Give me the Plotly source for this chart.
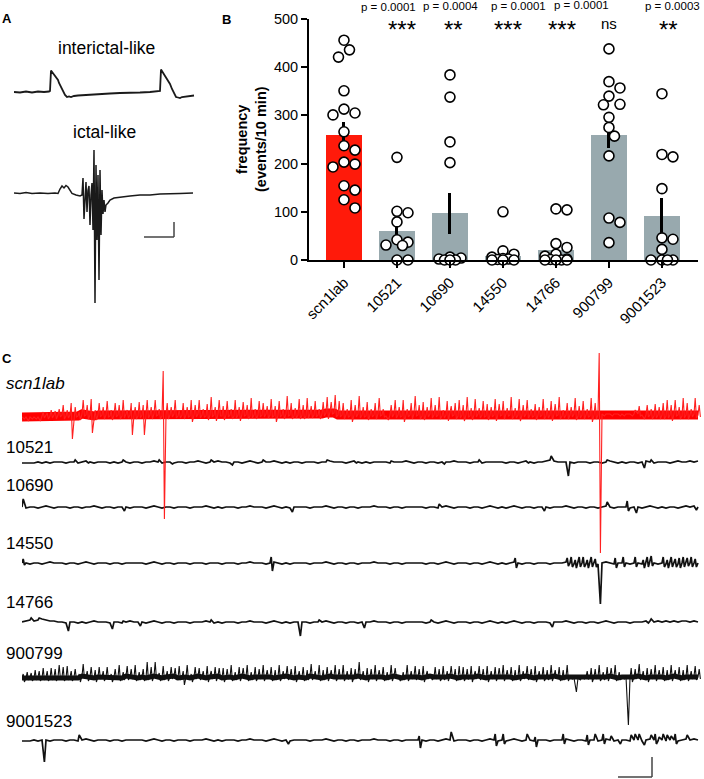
import plotly.graph_objects as go

W, H = 704, 779
FONT = "Liberation Sans, Arial, Helvetica, sans-serif"


def fx(x):
    return x / W


def fy(y):
    return 1 - y / H


# ---------------- Panel A data (time in ms-like units, amplitude relative to baseline) -------------
inter_t = [0, 6, 12, 18, 24, 30, 35, 36, 37, 38, 39, 41, 42, 43, 44, 45, 47, 49, 51, 53,
           55, 57, 60, 64, 70, 76, 86, 96, 106, 116, 126, 136, 144, 146, 147, 148, 150, 152, 153, 154,
           156, 158, 160, 162, 164, 166, 168, 172, 176, 180]
inter_v = [0, -0.5, 0.5, -0.5, 0.5, 0, 0.5, 1, 21.5, 20, 19, 16, 14, 13.5, 12, 9, 5, 0, -3, -5,
           -4.5, -5, -4, -3.5, -3, -2.5, -2, -1.5, -1, -1, -0.5, 0, 0.5, 1, 22.5, 21, 18, 15, 13, 12,
           8, 3, -2, -5, -5.5, -6, -5, -4.5, -4, -3.5]
ictal_t = [0, 6, 12, 18, 26, 34, 41, 44, 46, 48, 50, 52, 54, 56, 58, 62, 66, 68, 69, 70,
           71, 72, 73, 74, 75, 76, 77, 78, 79, 80, 81, 82, 83, 84, 85, 86, 87, 88, 89, 90,
           91, 92, 94, 96, 100, 106, 116, 126, 136, 146, 156, 166, 179]
ictal_v = [0, -0.5, 0.5, -0.5, 0, -0.5, 0, -0.5, 4, 7, 5, 7.5, 6, 2, -0.5, -2, -3, -2, 15, -26,
           1, 11, -19, 3, 7, -32, -2, 10, -37, 43, -110, 28, -47, 18, -87, 23, -42, 3, -21, -7,
           -19, -12, -10, -7, -5, -4, -3, -2, -2, -1, -1, -0.5, 0]

# ---------------- Panel B data -------------
groups = ["scn1lab", "10521", "10690", "14550", "14766", "900799", "9001523"]
means = [259, 60, 97, 8, 20, 260, 91]
sems = [27, 20, 43, 7, 10, 28, 37]
pts_scn1lab = [456, 436, 421, 351, 313, 305, 301, 266, 237, 228, 203, 199, 193, 154, 145, 125, 108]
pts_10521 = [213, 101, 98, 79, 42, 37, 31, 30, 0, 0]
pts_10690 = [384, 338, 245, 202, 6, 4, 2, 0, 0, 0]
pts_14550 = [100, 19, 12, 6, 3, 2, 1, 0, 0, 0]
pts_14766 = [106, 104, 34, 26, 12, 8, 2, 1, 0, 0, 0, 0]
pts_900799 = [438, 370, 357, 340, 323, 322, 296, 275, 257, 216, 87, 78, 36]
pts_9001523 = [345, 219, 214, 148, 46, 43, 22, 0, 0, 0, 0]
points = [pts_scn1lab, pts_10521, pts_10690, pts_14550, pts_14766, pts_900799, pts_9001523]
p_labels = ["", "p = 0.0001", "p = 0.0004", "p = 0.0001", "p = 0.0001", "", "p = 0.0003"]
sig_labels = ["", "***", "**", "***", "***", "ns", "**"]
y_ticks = [0, 100, 200, 300, 400, 500]

# ---------------- Panel C data (one char per time bin) -------------
# lvl: baseline level ('5' = 0), up / dn: spike amplitude (x2), 0-9 then a-z
rec_names = ["scn1lab", "10521", "10690", "14550", "14766", "900799", "9001523"]

scn_lvl = ("3333345455 5455465545 5545546554 5456545564 5545654556 4554565455 5654556545 "
           "5465567875 5545654556 5456545565 4565545654 5545654556 5654556545 5456545564 "
           "5545566666 6666655545 5456545565")
scn_up = ("0000021323 5364275836 4736582647 5847306473 6485736947 5738465937 6485739648 "
          "5947368597 6385947368 3057483695 7485937468 5948376485 7394857364 8475936485 "
          "7396000000 0002405364 6857496385")
scn_dn = ("1211212121 21c1212921 2121212a21 a121202121 2131212131 2121312121 1213121212 "
          "2121213121 2131212121 1212131212 2121213121 3121212131 2121312121 2131212131 "
          "2132010101 1010121212 2131212121")
scn_big = {35: (45, 103), 144: (62, 138)}

r10521_lvl = ("4444545455 5455456545 5545455455 4556545545 5455654556 5545545654 5556545455 "
              "4555455655 5456545455 5545556545 5455455565 5545545555 5455456545 5676555545 "
              "5545545654 5455456545 5545655656")
r10521_up = ("0000000000 0001000000 0000010000 0000100000 0000000100 0000000000 1000000000 "
             "0000001000 0000000000 0010000000 0000000000 0000100000 0000000000 0020000000 "
             "0000001000 0000000100 0000000000")
r10521_dn = ("0000000000 0000001000 0000000000 0000000100 0000000000 0010000000 0000000000 "
             "0000000000 0001000000 0000000000 0000010000 0000000000 0000001000 0000007000 "
             "0000000000 0000030000 0000000000")

r10690_lvl = ("5455456545 5545545565 4554555455 5456545545 5545556545 4555455655 5456545455 "
              "5545556545 5455455565 5545545555 5455456545 5545545654 5456545545 5545556545 "
              "5455456545 5545545654 5455456565")
r10690_up = ("4000000000 0000000000 0000000000 0000000000 0000000000 0000000000 0000000000 "
             "0000000000 0000000000 0000000000 0000200000 0000000000 0000000000 0000000000 "
             "0000002000 0300000000 0000000000")
r10690_dn = ("0000000000 0000000000 0000020000 0000000000 0000000000 0000000000 0000000200 "
             "0000000000 0000000000 0000000000 0000000000 0000000000 0000000000 2000000000 "
             "0000000000 0203000000 0000000020")

r14550_lvl = ("5545545655 5455456545 5545545555 5456545545 5545554555 4555455655 5456545455 "
              "5545556545 5455455565 5545545555 5455456545 5545545654 5456545545 5545556545 "
              "5455456545 5545545654 5455456555")
r14550_up = ("2000000000 0000000000 0000000000 0000000000 0000000000 0000000000 0030000000 "
             "0000000000 0000000000 0000000000 0000000000 0000000000 0002000000 0000002323 "
             "3232000030 3003023300 3232332320")
r14550_dn = ("1000000000 0000000000 0000000000 0000000000 0000000000 0000000000 0040000000 "
             "0000000000 0000000000 0000000000 0000000000 0000000000 0003000000 0000002222 "
             "2222k00020 2002022200 2222222220")

r14766_lvl = ("5676787665 5455454565 5545545655 5456545545 5545556545 4555455655 5456545455 "
              "5545556545 5455455565 5545545555 5455456545 5545545654 5456545545 5545556545 "
              "5455456545 5545556656 5656566565")
r14766_up = ("0010100000 0000000000 0000010000 0000000000 0000000100 0000000000 0000000000 "
             "0000100000 0000000000 0000000000 0010000000 0000000000 0000000000 0000000000 "
             "0000000000 0000000100 0000000000")
r14766_dn = ("0000000000 0400000000 0030000002 0000000000 0000000000 0000000000 0000000007 "
             "0000000000 0000030000 0000000000 0000000000 0000000000 0000000000 0020000000 "
             "0000000000 0000001000 0000000000")

r900799_lvl = ("4454545455 5455465545 5545546554 5456545564 5545654556 4554565455 5654556545 "
               "5465545655 5545654556 5456545565 4565545654 5545654556 5654556545 5456545544 "
               "5545545654 5545654556 5456545565")
r900799_up = ("2324353546 5634263545 3524635463 4857263546 3625436354 5463546354 6354635463 "
              "5463645364 6354735463 5364036354 6305463546 5463546354 6354635463 5463546000 "
              "0354635463 0054635463 5463546354")
r900799_dn = ("2121212121 2121212121 2121212121 2121212121 4121212121 2121212121 2121212121 "
              "2121212121 2121212121 2121212121 2121212121 2121212121 2121212121 2121212171 "
              "1121212121 1o21212121 2121212121")

r9001523_lvl = ("4445455455 5455456545 5545545555 5456545545 5545556545 4555455655 5456545455 "
                "5545556545 5455455565 5545545555 5455456545 5545545654 5456545545 5545556545 "
                "5455456545 5545545654 5455456565")
r9001523_up = ("0000000000 0000300000 0000000000 0000000000 0000000000 0000000000 0000000000 "
               "0000000000 0000000000 0000000002 0000000400 0000000030 3000003020 0000030000 "
               "0303030200 0033300232 3323002000")
r9001523_dn = ("00000b0000 0000000000 0000000000 0000000000 0000000000 0000000000 0000002000 "
               "0000000000 0000000000 0000000004 0000000000 0000000030 2000000030 0000020000 "
               "0200020002 0000020020 0002000000")

recordings = [
    (scn_lvl, scn_up, scn_dn, scn_big),
    (r10521_lvl, r10521_up, r10521_dn, {}),
    (r10690_lvl, r10690_up, r10690_dn, {}),
    (r14550_lvl, r14550_up, r14550_dn, {}),
    (r14766_lvl, r14766_up, r14766_dn, {}),
    (r900799_lvl, r900799_up, r900799_dn, {}),
    (r9001523_lvl, r9001523_up, r9001523_dn, {}),
]

# ---------------- layout constants -------------
row_offsets = [-70, -117, -162, -218, -277, -332, -395]   # vertical stacking of the panel C rows
label_y_px = [383, 447, 486, 543, 602, 653, 721]
ictal_offset = -101


def decode_amp(s):
    out = []
    for c in s.replace(" ", ""):
        out.append(int(c) if c.isdigit() else ord(c) - ord("a") + 10)
    return out


def decode_lvl(s):
    return [int(c) - 5 for c in s.replace(" ", "")]


def build_trace(lvl, up, dn, big):
    L = decode_lvl(lvl)
    U = [2 * a for a in decode_amp(up)]
    D = [2 * a for a in decode_amp(dn)]
    t, y = [], []
    for i in range(len(L)):
        b = L[i]
        u, d = U[i], D[i]
        if i in big:
            u, d = big[i]
        t.append(i)
        y.append(b)
        if u:
            t.append(i + 0.3)
            y.append(b + u)
        if d:
            t.append(i + 0.6)
            y.append(b - d)
    return t, y, L


def swarm(vals, ppu_y, ppx_cat, diam=10.0, step=5.5, max_k=2):
    placed, offs = [], []
    cands = [0]
    for k in range(1, max_k + 1):
        cands += [k, -k]
    for v in vals:
        best, best_d = 0, -1
        for c in cands:
            ox = c * step
            dmin = min([((ox - px) ** 2 + ((v - pv) * ppu_y) ** 2) ** 0.5 for px, pv in placed] or [1e9])
            if dmin >= diam:
                best = ox
                break
            if dmin > best_d + 1e-9:
                best, best_d = ox, dmin
        placed.append((best, v))
        offs.append(best / ppx_cat)
    return offs


fig = go.Figure()

# ---------------- Panel A -------------
fig.add_trace(go.Scatter(x=inter_t, y=inter_v, mode="lines", line=dict(color="#1a1a1a", width=1.8),
                         xaxis="x", yaxis="y", hoverinfo="skip"))
fig.add_trace(go.Scatter(x=ictal_t, y=[v + ictal_offset for v in ictal_v], mode="lines",
                         line=dict(color="#1a1a1a", width=1.5), xaxis="x", yaxis="y", hoverinfo="skip"))

# ---------------- Panel B -------------
B_X0, B_X1, B_Y0, B_Y1 = 309, 698, 260, 19
xr = [-0.66, 6.68]
ppx_cat = (B_X1 - B_X0) / (xr[1] - xr[0])
ppu_y = (B_Y0 - B_Y1) / 500.0
idx = list(range(len(groups)))
bar_colors = ["#ff1a0a"] + ["#98a9ae"] * (len(groups) - 1)
fig.add_trace(go.Bar(x=idx, y=means, width=0.68, marker=dict(color=bar_colors, line=dict(width=0)),
                     error_y=dict(type="data", array=sems, color="black", thickness=3, width=0),
                     xaxis="x2", yaxis="y2", hoverinfo="skip"))
for gi, vals in enumerate(points):
    offs = swarm(vals, ppu_y, ppx_cat)
    fig.add_trace(go.Scatter(x=[gi + o for o in offs], y=vals, mode="markers", cliponaxis=False,
                             marker=dict(size=10, color="white", line=dict(color="black", width=1.6)),
                             xaxis="x2", yaxis="y2", hoverinfo="skip"))

# ---------------- Panel C -------------
order = [1, 2, 3, 4, 5, 6, 0]  # draw red recording last so it lies on top
for k in order:
    lvl, up, dn, big = recordings[k]
    t, y, L = build_trace(lvl, up, dn, big)
    off = row_offsets[k]
    color = "#ff0000" if k == 0 else "#111111"
    if k == 0:
        fig.add_trace(go.Scatter(x=list(range(len(L))), y=[off + v for v in L], mode="lines",
                                 line=dict(color=color, width=9), xaxis="x3", yaxis="y3", hoverinfo="skip"))
    if k == 5:
        fig.add_trace(go.Scatter(x=list(range(len(L))), y=[off + v for v in L], mode="lines",
                                 line=dict(color=color, width=5), xaxis="x3", yaxis="y3", hoverinfo="skip"))
    fig.add_trace(go.Scatter(x=t, y=[off + v for v in y], mode="lines",
                             line=dict(color="#ff2020" if k == 0 else color,
                                       width=1.1 if k in (0, 5) else 1.7),
                             xaxis="x3", yaxis="y3", hoverinfo="skip"))

hidden = dict(visible=False, showgrid=False, zeroline=False, fixedrange=True, automargin=False)

fig.update_layout(
    template="none",
    width=W, height=H, margin=dict(l=0, r=0, t=0, b=0, pad=0, autoexpand=False),
    paper_bgcolor="white", plot_bgcolor="white", showlegend=False,
    font=dict(family=FONT, color="black"),
    bargap=0, hovermode=False,
    xaxis=dict(domain=[fx(14), fx(195)], range=[0, 181], anchor="y", **hidden),
    yaxis=dict(domain=[fy(310), fy(40)], range=[-218, 52], anchor="x", **hidden),
    xaxis2=dict(domain=[fx(B_X0), fx(B_X1)], range=xr, anchor="y2", tickmode="array", automargin=False,
                tickvals=idx, ticktext=groups, tickangle=-45, ticks="outside", ticklen=6, tickwidth=2,
                tickcolor="black", showline=True, linewidth=2, linecolor="black", showgrid=False,
                zeroline=False, fixedrange=True, tickfont=dict(size=15, family=FONT, color="#000000")),
    yaxis2=dict(domain=[fy(B_Y0), fy(B_Y1)], range=[0, 500], anchor="x2", tickmode="array",
                automargin=False, fixedrange=True,
                tickvals=y_ticks, ticks="outside", ticklen=6, tickwidth=2, tickcolor="black",
                showline=True, linewidth=2, linecolor="black", showgrid=False, zeroline=False,
                tickfont=dict(size=14.5, family=FONT, color="#000000")),
    xaxis3=dict(domain=[fx(22), fx(702)], range=[0, 170], anchor="y3", **hidden),
    yaxis3=dict(domain=[0, fy(345)], range=[-434, 0], anchor="x3", **hidden),
)

ann = []
# panel letters
for letter, (x, y) in zip(["A", "B", "C"], [(7, 18), (226, 19), (7, 358)]):
    ann.append(dict(text="<b>%s</b>" % letter, x=fx(x), y=fy(y), xref="paper", yref="paper",
                    showarrow=False, xanchor="center", yanchor="middle", font=dict(size=13)))
# panel A titles
ann.append(dict(text="interictal-like", x=fx(106), y=fy(48), xref="paper", yref="paper", showarrow=False,
                xanchor="center", yanchor="middle", font=dict(size=17.5)))
ann.append(dict(text="ictal-like", x=fx(104), y=fy(132), xref="paper", yref="paper", showarrow=False,
                xanchor="center", yanchor="middle", font=dict(size=17.5)))
# panel B axis title
ann.append(dict(text="<b>frequency</b><br><b>(events/10 min)</b>", x=fx(252), y=fy(139), xref="paper",
                yref="paper", showarrow=False, textangle=-90, xanchor="center", yanchor="middle",
                font=dict(size=14.5)))
# p values and significance
p_x = [None, 388, 450, 518, 581, None, 702]
p_y = [None, 7, 6, 6, 5, None, 6]
p_anchor = [None, "center", "center", "center", "center", None, "right"]
s_x = [None, 402, 453, 508, 562, 609, 668]
for gi in idx:
    if p_labels[gi]:
        ann.append(dict(text=p_labels[gi], x=fx(p_x[gi]), y=fy(p_y[gi]), xref="paper", yref="paper",
                        showarrow=False, xanchor=p_anchor[gi], yanchor="middle", font=dict(size=11.5)))
    if sig_labels[gi]:
        is_ns = sig_labels[gi] == "ns"
        ann.append(dict(text=sig_labels[gi], x=fx(s_x[gi]), y=fy(24 if is_ns else 30), xref="paper",
                        yref="paper", showarrow=False, xanchor="center", yanchor="middle",
                        font=dict(size=15 if is_ns else 24)))
# panel C row labels
for k, name in enumerate(rec_names):
    txt = "<i>%s</i>" % name if k == 0 else name
    ann.append(dict(text=txt, x=fx(4), y=fy(label_y_px[k]), xref="paper", yref="paper", showarrow=False,
                    xanchor="left", yanchor="middle", font=dict(size=17)))
fig.update_layout(annotations=ann)

# scale bars
sb = dict(color="#444444", width=1.5)
shapes = [
    dict(type="line", xref="x", yref="y", x0=130, x1=160, y0=-145, y1=-145, line=sb),
    dict(type="line", xref="x", yref="y", x0=160, x1=160, y0=-145, y1=-130, line=sb),
    dict(type="line", xref="x3", yref="y3", x0=149, x1=157.5, y0=-432, y1=-432, line=sb),
    dict(type="line", xref="x3", yref="y3", x0=157.5, x1=157.5, y0=-432, y1=-412, line=sb),
]
fig.update_layout(shapes=shapes)

fig.write_html("out.html", config={"displayModeBar": False, "staticPlot": True},
               post_script="document.body.style.margin='0';document.body.style.overflow='hidden';")
